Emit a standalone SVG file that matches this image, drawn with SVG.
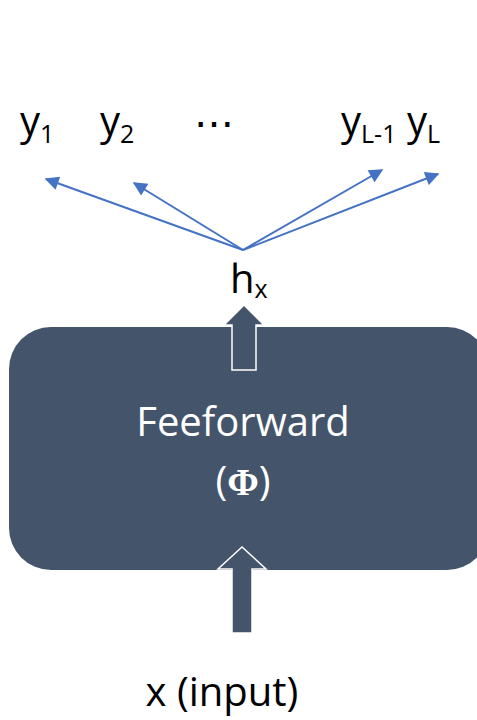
<svg xmlns="http://www.w3.org/2000/svg" width="477" height="720" viewBox="0 0 477 720">
  <style>
    .lbl { font-family: "Open Sans", "Liberation Sans", sans-serif; font-size: 40px; fill: #000000; }
    .sub { font-size: 25px; }
    .wlbl { font-family: "Open Sans", "Liberation Sans", sans-serif; font-size: 40px; fill: #FFFFFF; }
    .phi { font-family: "Liberation Serif", "DejaVu Serif", serif; font-weight: bold; font-size: 38px; }
    .box { fill: #44546A; }
    .blk { fill: #44546A; stroke: #FFFFFF; stroke-width: 1.5; stroke-linejoin: miter; }
    .conn { stroke: #4472C4; stroke-width: 2; fill: none; marker-end: url(#ah); }
  </style>
  <defs>
    <marker id="ah" viewBox="0 0 10 10" refX="9" refY="5" markerWidth="8" markerHeight="7" orient="auto" markerUnits="strokeWidth">
      <path d="M0,0 L10,5 L0,10 Z" fill="#4472C4"/>
    </marker>
  </defs>

  <g id="labels-top">
    <g id="y1"><text class="lbl" x="20" y="135">y<tspan class="sub" dy="8">1</tspan></text></g>
    <g id="y2"><text class="lbl" x="100" y="135">y<tspan class="sub" dy="8">2</tspan></text></g>
    <g id="dots"><text class="lbl" x="214" y="137" text-anchor="middle">⋯</text></g>
    <g id="yL-1"><text class="lbl" x="341" y="135">y<tspan class="sub" dy="8">L-1</tspan></text></g>
    <g id="yL"><text class="lbl" x="407" y="135">y<tspan class="sub" dy="8">L</tspan></text></g>
  </g>

  <g id="connectors">
    <line class="conn" x1="243" y1="250" x2="46" y2="179"/>
    <line class="conn" x1="243" y1="250" x2="134" y2="183"/>
    <line class="conn" x1="243" y1="250" x2="382" y2="170"/>
    <line class="conn" x1="243" y1="250" x2="438" y2="174"/>
  </g>

  <g id="hx"><text class="lbl" x="230" y="293">h<tspan class="sub" dy="5">x</tspan></text></g>

  <g id="feedforward">
    <rect class="box" x="9" y="327" width="480" height="243" rx="42" ry="42"/>
    <text class="wlbl" x="243" y="436" text-anchor="middle">Feeforward</text>
    <text class="wlbl" x="243" y="495" text-anchor="middle">(<tspan class="phi">Φ</tspan>)</text>
  </g>

  <g id="arrow-out">
    <polygon class="blk" points="232,370 256,370 256,325 264,325 244,305 224,325 232,325"/>
  </g>

  <g id="arrow-in">
    <polygon class="blk" points="232,633 252,633 252,569 266,569 242,547 218,569 232,569"/>
  </g>

  <g id="input"><text class="lbl" x="222" y="706" text-anchor="middle">x (input)</text></g>
</svg>
